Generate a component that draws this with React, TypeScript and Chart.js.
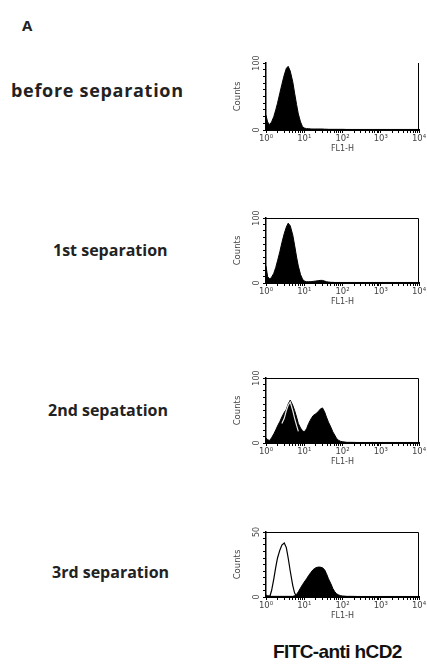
import React, { useEffect, useRef } from 'react';
import { Chart, registerables } from 'chart.js';

Chart.register(...registerables);

// ---------- data ----------
const fl1Bins = [1, 1.1, 1.25, 1.4, 1.6, 1.8, 2, 2.3, 2.6, 3, 3.4, 3.8, 4.3, 5, 5.6, 6.3, 7, 8, 9, 10, 11.5, 13, 15, 17, 20, 23, 26, 30, 34, 38, 43, 50, 56, 63, 70, 80, 90, 100, 130, 180, 250, 400, 700, 1500, 4000, 10000];

const beforeCounts = [22, 12, 8, 12, 20, 30, 40, 55, 68, 82, 92, 95, 88, 72, 55, 38, 24, 12, 5, 3, 2, 2, 1.5, 1.5, 1.5, 1.5, 1.5, 1.5, 1.2, 1.2, 1, 1, 1, 1, 1, 1, 1, 1, 0.8, 0.8, 0.8, 0.8, 0.8, 0.8, 0.8, 0.8];

const firstSepCounts = [26, 10, 6, 9, 15, 24, 34, 48, 62, 76, 86, 92, 88, 74, 58, 40, 26, 13, 6, 3, 2, 2, 2, 2.5, 3, 3.5, 4, 4, 3, 2, 1.5, 1, 1, 0.8, 0.8, 0.8, 0.8, 0.8, 0.8, 0.8, 0.8, 0.8, 0.8, 0.8, 0.8, 0.8];

const secondSepCounts = [8, 5, 4, 8, 14, 20, 26, 33, 40, 47, 52, 60, 66, 58, 50, 40, 30, 23, 19, 17, 22, 30, 37, 42, 45, 48, 52, 54, 48, 40, 32, 24, 17, 12, 7, 4, 2.5, 2, 1, 1, 0.8, 0.8, 0.8, 0.8, 0.8, 0.8];

const secondSepControl = [null, null, null, null, null, null, null, null, 30, 38, 50, 58, 63, 50, 38, 27, 18];

const thirdSepCounts = [1.5, 1, 0.8, 0.5, 0.5, 0.5, 0.5, 0.5, 0.5, 0.5, 0.5, 0.5, 0.5, 0.5, 1, 2, 4, 7, 9.5, 11.5, 14, 16.5, 19, 21, 22.5, 23, 23, 22.5, 21, 18, 14, 10, 6.5, 4, 2.5, 1.5, 1, 0.8, 0.5, 0.5, 0.4, 0.4, 0.4, 0.4, 0.4, 0.4];

const thirdSepControl = [0, 0, 0, 5, 14, 23, 30, 36, 40, 41.5, 38, 30, 20, 9, 3, 0.5, 0];

const panelLabels = ['before separation', '1st separation', '2nd sepatation', '3rd separation'];
const countsMax = [100, 100, 100, 50];
const decadeValues = [1, 10, 100, 1000, 10000];
const decadeLabels = ['10\u2070', '10\u00b9', '10\u00b2', '10\u00b3', '10\u2074'];
const minorMultipliers = [1, 2, 3, 4, 5, 6, 7, 8, 9];
const xAxisTitle = 'FL1-H';
const yAxisTitle = 'Counts';
const figureLetter = 'A';
const markerLabel = 'FITC-anti hCD2';

const panelSeries: { filled: number[]; control: (number | null)[] | null }[] = [
  { filled: beforeCounts, control: null },
  { filled: firstSepCounts, control: null },
  { filled: secondSepCounts, control: secondSepControl },
  { filled: thirdSepCounts, control: thirdSepControl },
];

// ---------- layout ----------
const PLOT_TOPS = [63, 218, 378, 532];
const PLOT_BOTTOMS = [130, 283, 443, 597];
const BOXED = [false, true, true, true];
const CONTROL_COLORS = ['#000', '#000', '#e6e6e6', '#000'];
const CANVAS_LEFT = 230;
const CANVAS_WIDTH = 197;
const Y_AXIS_W = 36;
const PAD_RIGHT = 8;
const PAD_TOP = 12;
const X_AXIS_H = 25;
const LABEL_LEFTS = [11, 53, 48, 52];
const LABEL_CENTERS = [90, 250, 410, 572];
const LABEL_SIZES = [18, 16, 16, 16];
const LABEL_SPACING = [0.7, 0, 0, 0];

const minorTickValues: number[] = [];
decadeValues.forEach((d, k) => {
  if (k === decadeValues.length - 1) {
    minorTickValues.push(d);
  } else {
    minorMultipliers.forEach((m) => minorTickValues.push(d * m));
  }
});

const panelDecor = {
  id: 'panelDecor',
  afterDraw(chart: any, _args: any, opts: any) {
    const { ctx, chartArea, scales } = chart;
    const y = scales.y;
    ctx.save();
    ctx.strokeStyle = '#000';
    ctx.lineWidth = 1;
    ctx.beginPath();
    const rx = Math.round(chartArea.right) - 0.5;
    if (opts.boxed) {
      const ty = Math.round(chartArea.top) + 0.5;
      ctx.moveTo(chartArea.left, ty);
      ctx.lineTo(rx, ty);
    } else {
      ctx.moveTo(rx, chartArea.top);
    }
    ctx.lineTo(rx, chartArea.bottom);
    ctx.stroke();

    ctx.fillStyle = '#444';
    ctx.font = '8px "DejaVu Sans"';
    ctx.textAlign = 'center';
    ctx.textBaseline = 'middle';
    const labelValues = [0, opts.max];
    labelValues.forEach((v: number) => {
      const py = y.getPixelForValue(v);
      ctx.save();
      ctx.translate(chartArea.left - 9, py);
      ctx.rotate(-Math.PI / 2);
      ctx.fillText(String(v), 0, 0);
      ctx.restore();
    });
    ctx.restore();
  },
};

function Histogram({ i }: { i: number }) {
  const ref = useRef<HTMLCanvasElement>(null);
  const h = PLOT_BOTTOMS[i] - PLOT_TOPS[i] + PAD_TOP + X_AXIS_H;

  useEffect(() => {
    const s = panelSeries[i];
    const toPts = (arr: (number | null)[]) => arr.map((v, k) => ({ x: fl1Bins[k], y: v }));
    const datasets: any[] = [];
    if (s.control) {
      datasets.push({
        data: toPts(s.control),
        borderColor: CONTROL_COLORS[i],
        borderWidth: 1.2,
        fill: false,
        pointRadius: 0,
        tension: 0,
      });
    }
    datasets.push({
      data: toPts(s.filled),
      borderColor: '#000',
      backgroundColor: '#000',
      borderWidth: 1,
      fill: 'origin',
      pointRadius: 0,
      tension: 0,
    });

    const chart = new Chart(ref.current as HTMLCanvasElement, {
      type: 'line',
      data: { datasets },
      options: {
        animation: false,
        responsive: false,
        devicePixelRatio: 1,
        layout: { padding: { top: PAD_TOP, right: PAD_RIGHT, left: 0, bottom: 0 } },
        plugins: {
          legend: { display: false },
          tooltip: { enabled: false },
          panelDecor: { boxed: BOXED[i], max: countsMax[i] },
        } as any,
        scales: {
          x: {
            type: 'logarithmic',
            min: 1,
            max: 10000,
            position: 'bottom',
            border: { display: true, color: '#000', width: 2 },
            grid: { display: true, drawOnChartArea: false, drawTicks: true, tickLength: 3, tickColor: '#000', tickWidth: 1 },
            ticks: {
              autoSkip: false,
              maxRotation: 0,
              minRotation: 0,
              padding: 1,
              color: '#444',
              font: { family: 'DejaVu Sans', size: 8.5 },
              callback: (v: any) => {
                const k = decadeValues.indexOf(Number(v));
                return k >= 0 ? decadeLabels[k] : '';
              },
            },
            afterBuildTicks: (scale: any) => {
              scale.ticks = minorTickValues.map((v) => ({ value: v }));
            },
            afterFit: (scale: any) => {
              scale.height = X_AXIS_H;
              scale.paddingLeft = 0;
              scale.paddingRight = 0;
            },
            title: {
              display: true,
              text: xAxisTitle,
              color: '#444',
              font: { family: 'DejaVu Sans', size: 8 },
              padding: { top: 0, bottom: 1 },
            },
          },
          y: {
            type: 'linear',
            min: 0,
            max: countsMax[i],
            position: 'left',
            border: { display: true, color: '#000', width: 1.5 },
            grid: { display: true, drawOnChartArea: false, drawTicks: true, tickLength: 3, tickColor: '#000' },
            ticks: { stepSize: countsMax[i] / 10, display: false },
            afterFit: (scale: any) => {
              scale.width = Y_AXIS_W;
            },
            title: {
              display: true,
              text: yAxisTitle,
              color: '#444',
              font: { family: 'DejaVu Sans', size: 8.5 },
              padding: { top: 3, bottom: 0 },
            },
          },
        } as any,
      },
      plugins: [panelDecor as any],
    });
    return () => chart.destroy();
  }, [i]);

  return (
    <canvas
      ref={ref}
      width={CANVAS_WIDTH}
      height={h}
      style={{ position: 'absolute', left: CANVAS_LEFT, top: PLOT_TOPS[i] - PAD_TOP, width: CANVAS_WIDTH, height: h }}
    />
  );
}

export default function App() {
  return (
    <div style={{ position: 'absolute', left: 0, top: 0, width: 427, height: 666, background: '#fff', overflow: 'hidden' }}>
      <div style={{ position: 'absolute', left: 22, top: 16, font: '700 15px "Open Sans", sans-serif', color: '#222', lineHeight: '18px' }}>
        {figureLetter}
      </div>
      {panelLabels.map((t, k) => (
        <div
          key={t}
          style={{
            position: 'absolute',
            left: LABEL_LEFTS[k],
            top: LABEL_CENTERS[k] - 12,
            font: `700 ${LABEL_SIZES[k]}px "Open Sans", "DejaVu Sans", sans-serif`,
            letterSpacing: `${LABEL_SPACING[k]}px`,
            color: '#222',
            lineHeight: '24px',
            whiteSpace: 'nowrap',
          }}
        >
          {t}
        </div>
      ))}
      {panelLabels.map((t, k) => (
        <Histogram key={'h' + t} i={k} />
      ))}
      <div style={{ position: 'absolute', left: 273, top: 640, font: '700 19px "Liberation Sans", Arial, sans-serif', color: '#111', lineHeight: '24px', whiteSpace: 'nowrap', letterSpacing: '-0.6px' }}>
        {markerLabel}
      </div>
    </div>
  );
}
